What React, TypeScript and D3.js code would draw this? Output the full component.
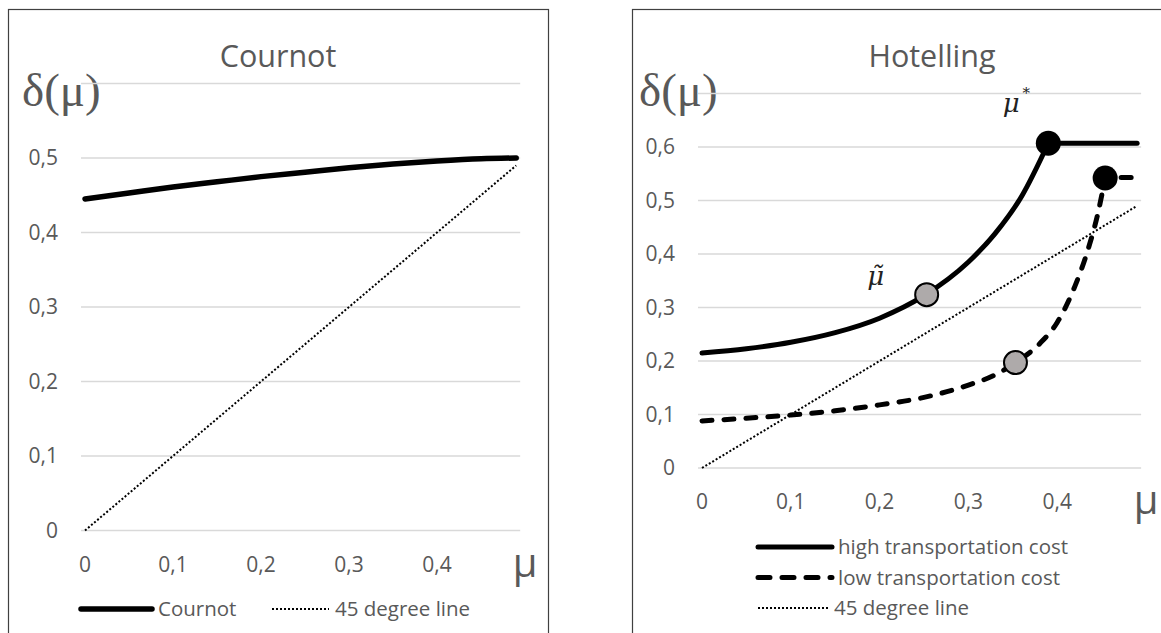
import React from 'react';
import * as d3 from 'd3';

// tick values
const xTicks = [0, 0.1, 0.2, 0.3, 0.4];
const cournotYTicks = [0, 0.1, 0.2, 0.3, 0.4, 0.5, 0.6];
const hotellingYTicks = [0, 0.1, 0.2, 0.3, 0.4, 0.5, 0.6, 0.7];

// Cournot panel
const cournotX = [0, 0.05, 0.1, 0.15, 0.2, 0.25, 0.3, 0.35, 0.4, 0.45, 0.49];
const cournotY = [0.445, 0.453, 0.461, 0.468, 0.475, 0.481, 0.487, 0.492, 0.496, 0.499, 0.5];

// 45 degree line (both panels)
const diagonalX = [0, 0.49];
const diagonalY = [0, 0.49];

// Hotelling panel, high transportation cost
const highCurveX = [0, 0.05, 0.1, 0.15, 0.2, 0.25, 0.3, 0.33, 0.36, 0.39];
const highCurveY = [0.215, 0.223, 0.235, 0.253, 0.28, 0.322, 0.385, 0.438, 0.508, 0.607];
const highFlatX = [0.39, 0.49];
const highFlatY = [0.607, 0.607];

// Hotelling panel, low transportation cost
const lowCurveX = [0, 0.05, 0.1, 0.15, 0.2, 0.25, 0.3, 0.33, 0.353, 0.38, 0.4, 0.42, 0.435, 0.445, 0.454];
const lowCurveY = [0.088, 0.093, 0.099, 0.107, 0.118, 0.132, 0.155, 0.174, 0.197, 0.232, 0.272, 0.34, 0.41, 0.47, 0.542];
const lowFlatX = [0.454, 0.49];
const lowFlatY = [0.543, 0.543];

// marked points: mu tilde (grey) and mu star (black)
const greyMarkX = [0.253, 0.353];
const greyMarkY = [0.324, 0.197];
const blackMarkX = [0.39, 0.454];
const blackMarkY = [0.607, 0.542];

const FONT = '"Open Sans", Lato, sans-serif';
const SERIF = '"Liberation Serif", "DejaVu Serif", serif';
const TXT = '#595959';
const TICK = 21;
const LEG = 20.5;

const locale = d3.formatLocale({ decimal: ',', thousands: '.', grouping: [3], currency: ['', ''] });
const fmt = locale.format('~g');

const zip = (xs: number[], ys: number[]) => xs.map((x, i) => [x, ys[i]] as [number, number]);

function Panel({ left, top, width, title, xRange, yRange, yTicks, children }: any) {
  const x = d3.scaleLinear().domain([0, 0.5]).range(xRange);
  const y = d3.scaleLinear().domain([0, yTicks[yTicks.length - 1]]).range(yRange);
  const gx0 = x(0) - 4;
  const gx1 = x(0.49) + 4;
  return (
    <g>
      <rect x={left + 0.5} y={top + 0.5} width={width} height={700} fill="#fff" stroke="#404040" strokeWidth={1.2} />
      <text x={left + width / 2} y={67} textAnchor="middle" style={{ fontFamily: FONT }} fontSize={30.5} fill={TXT}>{title}</text>
      <text x={gx0 - 59} y={106} style={{ fontFamily: SERIF }} fontSize={47} fill={TXT}>δ(μ)</text>
      {yTicks.map((t: number) => (
        <g key={t}>
          <line x1={gx0} x2={gx1} y1={y(t)} y2={y(t)} stroke="#d9d9d9" strokeWidth={1.5} />
          {t < yTicks[yTicks.length - 1] && (
            <text x={gx0 - 23} y={y(t)} dy="0.35em" textAnchor="end" style={{ fontFamily: FONT }} fontSize={TICK} fill={TXT}>{fmt(t)}</text>
          )}
        </g>
      ))}
      {xTicks.map((t) => (
        <text key={t} x={x(t)} y={y(0) + 34} dy="0.35em" textAnchor="middle" style={{ fontFamily: FONT }} fontSize={TICK} fill={TXT}>{fmt(t)}</text>
      ))}
      <text x={x(0.49) + 9} y={y(0) + 46} textAnchor="middle" style={{ fontFamily: FONT }} fontSize={40} fill={TXT}>μ</text>
      {children(x, y)}
    </g>
  );
}

const curve = d3.line().curve(d3.curveMonotoneX);
const straight = d3.line();

function Legend({ x, y, items }: any) {
  return (
    <g>
      {items.map((it: any, i: number) => (
        <g key={it.label} transform={`translate(${x},${y + i * 30.5})`}>
          <line x1={0} x2={it.len} y1={0} y2={0} stroke="#000" strokeWidth={it.w} strokeDasharray={it.dash} strokeLinecap={it.cap} />
          <text x={it.len + 6} y={0} dy="0.35em" style={{ fontFamily: FONT }} fontSize={LEG} fill={TXT}>{it.label}</text>
        </g>
      ))}
    </g>
  );
}

const DOT = '2 2';

export default function App() {
  return (
    <svg width={1161} height={633} style={{ position: 'absolute', left: 0, top: 0, background: '#fff' }}>
      <Panel left={8} top={9} width={540} title="Cournot" xRange={[85, 525]} yRange={[530.5, 83.5]} yTicks={cournotYTicks}>
        {(x: any, y: any) => {
          const pts = (xs: number[], ys: number[]) => zip(xs, ys).map(([a, b]) => [x(a), y(b)] as [number, number]);
          return (
            <g>
              <path d={straight(pts(diagonalX, diagonalY)) || ''} fill="none" stroke="#000" strokeWidth={2} strokeDasharray={DOT} />
              <path d={curve(pts(cournotX, cournotY)) || ''} fill="none" stroke="#000" strokeWidth={5.5} strokeLinecap="round" />
            </g>
          );
        }}
      </Panel>
      <Panel left={632} top={9} width={600} title="Hotelling" xRange={[702, 1146]} yRange={[468, 93.5]} yTicks={hotellingYTicks}>
        {(x: any, y: any) => {
          const pts = (xs: number[], ys: number[]) => zip(xs, ys).map(([a, b]) => [x(a), y(b)] as [number, number]);
          return (
            <g>
              <path d={straight(pts(diagonalX, diagonalY)) || ''} fill="none" stroke="#000" strokeWidth={2} strokeDasharray={DOT} />
              <path d={curve(pts(highCurveX, highCurveY)) || ''} fill="none" stroke="#000" strokeWidth={5} strokeLinecap="round" />
              <path d={straight(pts(highFlatX, highFlatY)) || ''} fill="none" stroke="#000" strokeWidth={5} strokeLinecap="round" />
              <path d={curve(pts(lowCurveX, lowCurveY)) || ''} fill="none" stroke="#000" strokeWidth={5} strokeLinecap="round" strokeDasharray="10 12" />
              <path d={straight(pts(lowFlatX, lowFlatY)) || ''} fill="none" stroke="#000" strokeWidth={5} strokeLinecap="round" strokeDasharray="0 16 10 12" />
              {zip(greyMarkX, greyMarkY).map(([a, b], i) => (
                <circle key={'g' + i} cx={x(a)} cy={y(b)} r={11.5} fill="#aeaaaa" stroke="#000" strokeWidth={2} />
              ))}
              {zip(blackMarkX, blackMarkY).map(([a, b], i) => (
                <circle key={'b' + i} cx={x(a)} cy={y(b)} r={12.5} fill="#000" />
              ))}
              <text x={x(greyMarkX[0]) - 51} y={y(greyMarkY[0]) - 10} textAnchor="middle" style={{ fontFamily: '"DejaVu Serif", serif' }} fontStyle="italic" fontSize={26} fill="#222">μ̃</text>
              <text x={x(blackMarkX[0]) - 37} y={y(blackMarkY[0]) - 31} textAnchor="middle" style={{ fontFamily: '"DejaVu Serif", serif' }} fontStyle="italic" fontSize={26} fill="#222">μ</text>
              <text x={x(blackMarkX[0]) - 22} y={y(blackMarkY[0]) - 45} textAnchor="middle" style={{ fontFamily: '"DejaVu Serif", serif' }} fontSize={15} fill="#222">*</text>
            </g>
          );
        }}
      </Panel>
      <Legend x={81} y={609} items={[
        { label: 'Cournot', len: 71, w: 5.5, cap: 'round' },
      ]} />
      <Legend x={272} y={609} items={[
        { label: '45 degree line', len: 57, w: 2, dash: DOT },
      ]} />
      <Legend x={758} y={547} items={[
        { label: 'high transportation cost', len: 74, w: 5, cap: 'round' },
        { label: 'low transportation cost', len: 74, w: 5, cap: 'round', dash: '12 12' },
        { label: '45 degree line', len: 70, w: 2, dash: DOT },
      ]} />
    </svg>
  );
}
